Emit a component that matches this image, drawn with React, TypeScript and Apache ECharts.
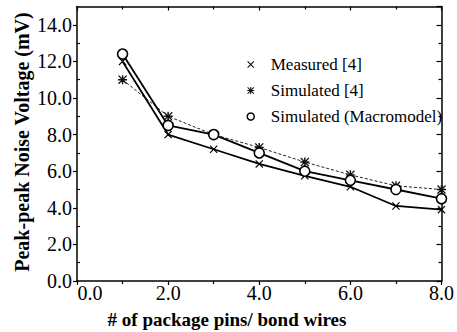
import React, { useEffect, useRef } from "react";
import * as echarts from "echarts";

const pins = [1, 2, 3, 4, 5, 6, 7, 8];
const measured = [12.0, 8.0, 7.2, 6.4, 5.75, 5.15, 4.1, 3.9];
const simulated4 = [11.0, 9.0, 8.0, 7.3, 6.5, 5.8, 5.2, 5.0];
const macromodel = [12.4, 8.5, 8.0, 7.0, 6.0, 5.5, 5.0, 4.5];
const seriesNames = ["Measured [4]", "Simulated [4]", "Simulated (Macromodel)"];
const xTitle = "# of package pins/ bond wires";
const yTitle = "Peak-peak Noise Voltage (mV)";

const CROSS = "path://M1,0L5,4L9,0L10,1L6,5L10,9L9,10L5,6L1,10L0,9L4,5L0,1Z";
const STAR =
  "path://M1,0L5,4L9,0L10,1L6,5L10,9L9,10L5,6L1,10L0,9L4,5L0,1Z M4.2,0L5.8,0L5.8,4.2L10,4.2L10,5.8L5.8,5.8L5.8,10L4.2,10L4.2,5.8L0,5.8L0,4.2L4.2,4.2Z";

const FONT = "'Liberation Serif', 'Times New Roman', serif";

export default function App() {
  const ref = useRef<HTMLDivElement>(null);
  useEffect(() => {
    if (!ref.current) return;
    const chart = echarts.init(ref.current, null, { renderer: "svg" });
    const pair = (arr: number[]) => pins.map((p, i) => [p, arr[i]]);
    const axisLine = { show: true, onZero: false, lineStyle: { color: "#000", width: 1.5 } };
    chart.setOption({
      animation: false,
      backgroundColor: "#fff",
      textStyle: { fontFamily: FONT, color: "#000" },
      grid: { left: 77, right: 14, top: 6.5, bottom: 51, containLabel: false },
      legend: {
        orient: "vertical",
        left: 241.5,
        top: 51,
        itemWidth: 7,
        itemHeight: 7,
        itemGap: 9,
        textStyle: { fontFamily: FONT, fontSize: 17, lineHeight: 17, color: "#000", padding: [0, 0, 0, 11.5] },
        data: [
          { name: seriesNames[0], icon: CROSS },
          { name: seriesNames[1], icon: STAR },
          {
            name: seriesNames[2],
            icon: "circle",
            itemStyle: { color: "#fff", borderColor: "#000", borderWidth: 1.5 },
          },
        ],
      },
      xAxis: [
        {
          type: "value",
          min: 0,
          max: 8,
          interval: 2,
          position: "bottom",
          axisLine,
          splitLine: { show: false },
          axisTick: { show: true, length: 4, inside: false, lineStyle: { color: "#000", width: 1.2 } },
          minorTick: { show: true, splitNumber: 2, length: 3, lineStyle: { color: "#000", width: 1.2 } },
          axisLabel: {
            fontFamily: FONT,
            fontSize: 20,
            color: "#000",
            margin: 2,
            formatter: (v: number) => (v === 0 ? "{first|0.0}" : v.toFixed(1)),
            rich: {
              first: { fontFamily: FONT, fontSize: 20, color: "#000", padding: [0, 0, 0, 26] },
            },
          },
        },
        {
          type: "value",
          min: 0,
          max: 8,
          interval: 2,
          position: "top",
          axisLine,
          splitLine: { show: false },
          axisTick: { show: true, length: 4, inside: true, lineStyle: { color: "#000", width: 1.2 } },
          minorTick: { show: true, splitNumber: 2, length: 3, lineStyle: { color: "#000", width: 1.2 } },
          axisLabel: { show: false },
        },
      ],
      yAxis: [
        {
          type: "value",
          min: 0,
          max: 15,
          interval: 2,
          position: "left",
          axisLine,
          splitLine: { show: false },
          axisTick: { show: true, length: 4, inside: false, lineStyle: { color: "#000", width: 1.2 } },
          minorTick: { show: false },
          axisLabel: {
            fontFamily: FONT,
            fontSize: 20,
            color: "#000",
            margin: 5,
            showMaxLabel: false,
            formatter: (v: number) => v.toFixed(1),
          },
        },
        {
          type: "value",
          min: 0,
          max: 15,
          interval: 2,
          position: "right",
          axisLine,
          splitLine: { show: false },
          axisTick: { show: true, length: 5, inside: true, lineStyle: { color: "#000", width: 1.2 } },
          minorTick: { show: true, splitNumber: 2, length: 3, lineStyle: { color: "#000", width: 1.2 } },
          axisLabel: { show: false },
        },
        {
          type: "value",
          min: 0,
          max: 15,
          interval: 2,
          position: "left",
          axisLine: { show: false },
          splitLine: { show: false },
          axisTick: { show: false, inside: true },
          minorTick: { show: true, splitNumber: 2, length: 3, lineStyle: { color: "#000", width: 1.2 } },
          axisLabel: { show: false },
        },
      ],
      series: [
        {
          name: seriesNames[1],
          type: "line",
          data: pair(simulated4),
          symbol: STAR,
          symbolSize: 9,
          lineStyle: { color: "#222", width: 1, type: [3, 2] },
          itemStyle: { color: "#111" },
          z: 2,
        },
        {
          name: seriesNames[0],
          type: "line",
          data: pair(measured),
          symbol: CROSS,
          symbolSize: 8,
          lineStyle: { color: "#000", width: 1.8 },
          itemStyle: { color: "#000" },
          z: 3,
        },
        {
          name: seriesNames[2],
          type: "line",
          data: pair(macromodel),
          symbol: "circle",
          symbolSize: 10,
          lineStyle: { color: "#000", width: 1.8 },
          itemStyle: { color: "#fff", borderColor: "#000", borderWidth: 1.6 },
          z: 4,
        },
      ],
      graphic: [
        {
          type: "text",
          x: 22,
          y: 142,
          rotation: Math.PI / 2,
          style: {
            text: yTitle,
            fontFamily: FONT,
            fontSize: 20,
            fontWeight: "bold",
            fill: "#000",
            align: "center",
            verticalAlign: "middle",
          },
        },
        {
          type: "text",
          x: 227,
          y: 319,
          style: {
            text: xTitle,
            fontFamily: FONT,
            fontSize: 19,
            fontWeight: "bold",
            fill: "#000",
            align: "center",
            verticalAlign: "middle",
          },
        },
      ],
    });
    return () => chart.dispose();
  }, []);
  return <div ref={ref} style={{ width: 457, height: 332, position: "absolute", left: 0, top: 0 }} />;
}
